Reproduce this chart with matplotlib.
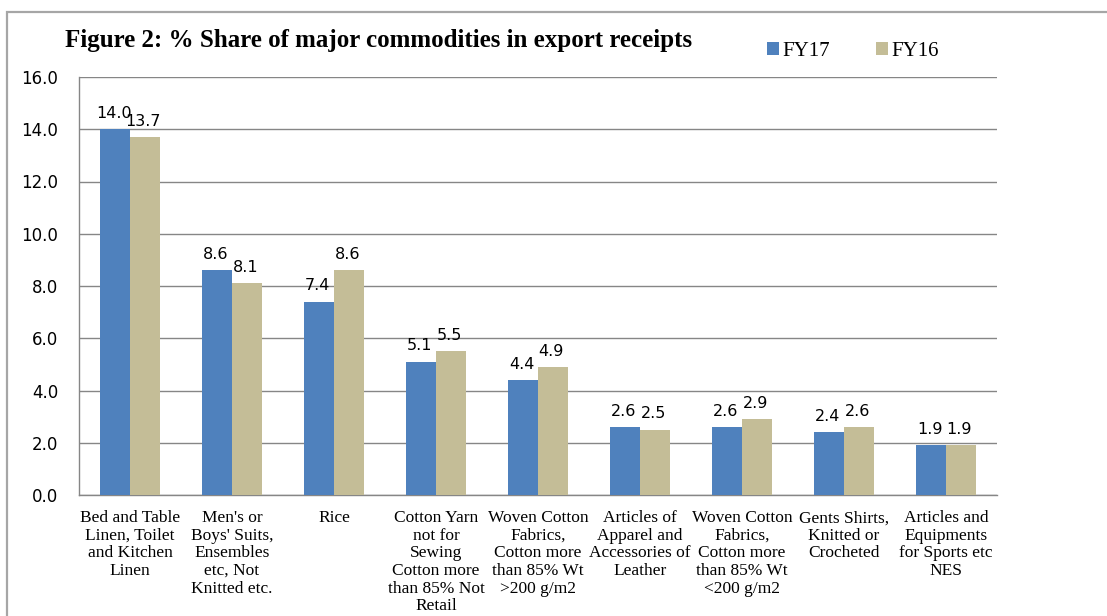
import matplotlib
matplotlib.use("Agg")
import matplotlib.pyplot as plt
from matplotlib.patches import Rectangle
import numpy as np

categories = [
    "Bed and Table\nLinen, Toilet\nand Kitchen\nLinen",
    "Men's or\nBoys' Suits,\nEnsembles\netc, Not\nKnitted etc.",
    "Rice",
    "Cotton Yarn\nnot for\nSewing\nCotton more\nthan 85% Not\nRetail",
    "Woven Cotton\nFabrics,\nCotton more\nthan 85% Wt\n>200 g/m2",
    "Articles of\nApparel and\nAccessories of\nLeather",
    "Woven Cotton\nFabrics,\nCotton more\nthan 85% Wt\n<200 g/m2",
    "Gents Shirts,\nKnitted or\nCrocheted",
    "Articles and\nEquipments\nfor Sports etc\nNES",
]
fy17 = [14.0, 8.6, 7.4, 5.1, 4.4, 2.6, 2.6, 2.4, 1.9]
fy16 = [13.7, 8.1, 8.6, 5.5, 4.9, 2.5, 2.9, 2.6, 1.9]
yticks = [0, 2, 4, 6, 8, 10, 12, 14, 16]

W, H = 1107, 616
fig = plt.figure(figsize=(W / 100, H / 100), dpi=100)
# outer frame
fig.patches.append(Rectangle((7 / W, -0.1), 1.2, 1 - 12 / H + 0.1, transform=fig.transFigure,
                             fill=False, edgecolor="#a6a6a6", linewidth=1.6))

ax = fig.add_axes([79 / W, 1 - 495 / H, (997 - 79) / W, (495 - 77) / H])
x = np.arange(len(categories))
bw = 0.29
b1 = ax.bar(x - bw / 2, fy17, bw, color="#4F81BD", label="FY17", zorder=3)
b2 = ax.bar(x + bw / 2, fy16, bw, color="#C4BD97", label="FY16", zorder=3)

for bars, vals in ((b1, fy17), (b2, fy16)):
    for r, v in zip(bars, vals):
        ax.annotate(f"{v:.1f}", (r.get_x() + r.get_width() / 2, v), xytext=(-1, 6),
                    textcoords="offset points", ha="center", va="bottom",
                    fontsize=11.5, family="DejaVu Sans", color="#000000")

ax.set_xlim(-0.5, len(categories) - 0.5)
ax.set_ylim(0, 16)
ax.set_yticks(yticks)
ax.set_yticklabels([f"{t:.1f}" for t in yticks], fontsize=12, family="DejaVu Sans")
ax.tick_params(axis="y", length=0, pad=15)
ax.set_xticks(x)
ax.set_xticklabels(categories, fontsize=12.5, family="Liberation Serif", linespacing=1.13, va="top")
ax.tick_params(axis="x", length=0, pad=11)
ax.grid(axis="y", color="#868686", linewidth=1.0, zorder=0)
for s in ("top", "right"):
    ax.spines[s].set_visible(False)
for s in ("left", "bottom"):
    ax.spines[s].set_color("#868686")
    ax.spines[s].set_linewidth(1.0)

fig.text(65 / W, 1 - 40 / H, "Figure 2: % Share of major commodities in export receipts",
         fontsize=18, fontweight="bold", family="Liberation Serif", va="center", ha="left")

leg = fig.legend(handles=[b1, b2], labels=["FY17", "FY16"], loc="center left",
                 bbox_to_anchor=(748 / W, 1 - 51 / H), ncol=2, frameon=False,
                 prop={"family": "Liberation Serif", "size": 15},
                 handlelength=0.6, handleheight=0.6, handletextpad=0.15, columnspacing=2.2)

fig.savefig("out.png", dpi=100)
